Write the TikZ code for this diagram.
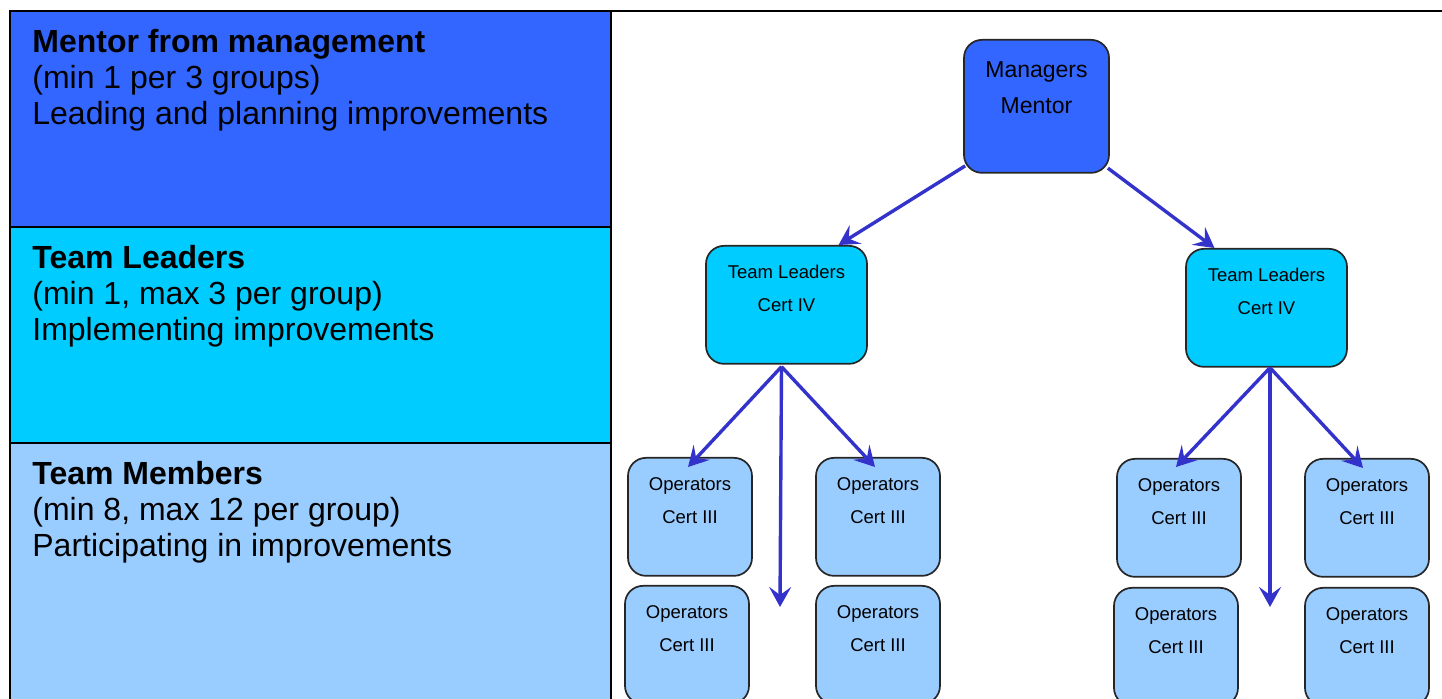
\documentclass[tikz,border=0pt]{standalone}
\usepackage{fontspec}
\setmainfont{Liberation Sans}
\usetikzlibrary{arrows.meta,calc}
\definecolor{mentorblue}{HTML}{3366FF}
\definecolor{leadercyan}{HTML}{00CCFF}
\definecolor{memberblue}{HTML}{99CCFF}
\definecolor{arrowblue}{HTML}{3333CC}
\tikzset{
  box/.style={draw=black!85,line width=0.85pt,rounded corners=9pt,anchor=north,inner sep=0pt,align=center},
  mgrbox/.style={box,fill=mentorblue,minimum width=72.5pt,text height=36.6pt,text depth=29.9pt,font=\fontsize{11.5}{18}\selectfont},
  tlbox/.style={box,fill=leadercyan,minimum width=80.5pt,text height=32.8pt,text depth=26.2pt,font=\fontsize{9.25}{16.5}\selectfont},
  opbox/.style={tlbox,fill=memberblue,minimum width=62pt},
  link/.style={draw=arrowblue,line width=1.7pt,-{Stealth[length=10pt,width=11pt,inset=4pt]}},
  bandtext/.style={anchor=north west,inner sep=0pt,align=left,text height=56.5pt,font=\fontsize{16}{18}\selectfont}
}
\begin{document}
\begin{tikzpicture}[x=0.5pt,y=-0.5pt]
\useasboundingbox (0,0) rectangle (1442,699);
% left side: the three levels
\fill[mentorblue] (10,11) rectangle (611,227);
\fill[leadercyan] (10,227) rectangle (611,443);
\fill[memberblue] (10,443) rectangle (611,710);
\draw[line width=1pt] (10,11) rectangle (1450,710) (611,11) -- (611,710)
  (10,227) -- (611,227) (10,443) -- (611,443);
\node[bandtext] (mentorTxt) at (32,11) {\textbf{Mentor from management}\\(min 1 per 3 groups)\\Leading and planning improvements};
\node[bandtext] (leaderTxt) at (32,227) {\textbf{Team Leaders}\\(min 1, max 3 per group)\\Implementing improvements};
\node[bandtext] (memberTxt) at (32,443) {\textbf{Team Members}\\(min 8, max 12 per group)\\Participating in improvements};
% right side: the tree
\node[mgrbox] (mgr) at (1036.5,39) {Managers\\Mentor};
\node[tlbox] (tlL) at (786.5,245) {Team Leaders\\Cert IV};
\node[tlbox] (tlR) at (1266.5,248) {Team Leaders\\Cert IV};
\node[opbox] (opLa) at (690,457) {Operators\\Cert III};
\node[opbox] (opLb) at (878,457) {Operators\\Cert III};
\node[opbox] (opLc) at (687,585) {Operators\\Cert III};
\node[opbox] (opLd) at (878,585) {Operators\\Cert III};
\node[opbox] (opRa) at (1179,458) {Operators\\Cert III};
\node[opbox] (opRb) at (1367,458) {Operators\\Cert III};
\node[opbox] (opRc) at (1176,587) {Operators\\Cert III};
\node[opbox] (opRd) at (1367,587) {Operators\\Cert III};
\coordinate (hubL) at ($(tlL.south)+(-5,2)$);
\coordinate (hubR) at ($(tlR.south)+(3.5,0)$);
\coordinate (endL) at (780,607);
\coordinate (endR) at (1270,607);
\draw[link] ($(mgr.220)+(2,-2)$) -- (tlL.49);
\draw[link] ($(mgr.319)+(-2,-2)$) -- (tlR.131);
\draw[link] (hubL) -- ($(opLa.north)+(-2,10)$);
\draw[link] (hubL) -- ($(opLb.north)+(-3,10)$);
\draw[link] (hubL) -- (endL);
\draw[link] (hubR) -- ($(opRa.north)+(-3,9)$);
\draw[link] (hubR) -- ($(opRb.north)+(-4,10)$);
\draw[link] (hubR) -- (endR);
\end{tikzpicture}
\end{document}
